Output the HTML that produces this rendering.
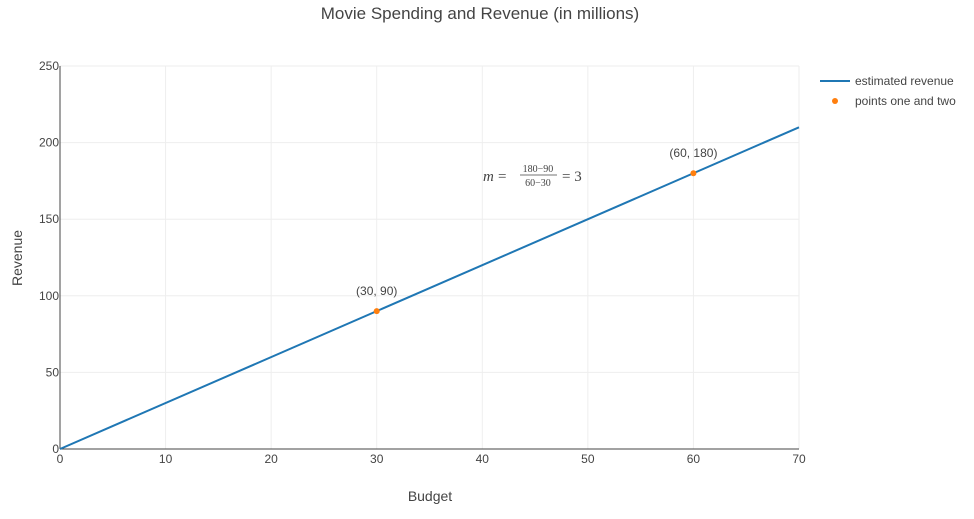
<!DOCTYPE html>
<html><head><meta charset="utf-8"><style>
body{margin:0;background:#fff;width:974px;height:514px;overflow:hidden;font-family:"Liberation Sans",sans-serif}
text{font-family:"Liberation Sans",sans-serif;fill:#444}
</style></head><body>
<svg id="c" width="974" height="514">
<text x="480" y="19" font-size="17" text-anchor="middle">Movie Spending and Revenue (in millions)</text>
<g id="grid"></g><g id="axes"></g><g id="marks"></g>
<text x="430" y="501" font-size="14" text-anchor="middle">Budget</text>
<text transform="translate(22,258) rotate(-90)" font-size="14" text-anchor="middle">Revenue</text>
<g font-family="Liberation Serif" >
<text x="483" y="181" font-size="15" font-style="italic" style="font-family:'Liberation Serif',serif">m</text>
<text x="498" y="181" font-size="15" style="font-family:'Liberation Serif',serif">=</text>
<text x="538" y="172" font-size="10" text-anchor="middle" style="font-family:'Liberation Serif',serif">180−90</text>
<line x1="520" y1="175" x2="557" y2="175" stroke="#444" stroke-width="0.8"/>
<text x="538" y="186" font-size="10" text-anchor="middle" style="font-family:'Liberation Serif',serif">60−30</text>
<text x="562" y="181" font-size="15" style="font-family:'Liberation Serif',serif">= 3</text>
</g>
<g>
<line x1="820" y1="81" x2="850" y2="81" stroke="#1f77b4" stroke-width="2"/>
<text x="855" y="85" font-size="12">estimated revenue</text>
<circle cx="835" cy="101" r="3" fill="#ff7f0e"/>
<text x="855" y="105" font-size="12">points one and two</text>
</g>
</svg>
<script>
const xTicks=[0,10,20,30,40,50,60,70];
const yTicks=[0,50,100,150,200,250];
const lineX=[0,70];
const lineY=[0,210];
const ptX=[30,60];
const ptY=[90,180];
const ptLabels=["(30, 90)","(60, 180)"];
const X=v=>60+v*(739/70), Y=v=>449-v*(383/250);
const NS="http://www.w3.org/2000/svg";
function mk(t,a,p,txt){const e=document.createElementNS(NS,t);for(const k in a)e.setAttribute(k,a[k]);if(txt!=null)e.textContent=txt;p.appendChild(e);return e;}
const g=document.getElementById('grid'),ax=document.getElementById('axes'),m=document.getElementById('marks');
xTicks.forEach(v=>{
 const l=mk('line',{x1:X(v),x2:X(v),y1:Y(250),y2:Y(0),stroke:'#eee'},g);
 
 
 const t=mk('text',{x:X(v),y:463,'font-size':12,'text-anchor':'middle'},ax,v);
 
 
});
yTicks.forEach(v=>{
 const l=mk('line',{x1:X(0),x2:X(70),y1:Y(v),y2:Y(v),stroke:'#eee'},g);
 
 
 const t=mk('text',{x:59,y:Y(v)+4,'font-size':12,'text-anchor':'end'},ax,v);
 
 
});
const xa=mk('line',{x1:X(0),x2:X(70),y1:Y(0),y2:Y(0),stroke:'#444'},ax);


const ya=mk('line',{x1:X(0),x2:X(0),y1:Y(0),y2:Y(250),stroke:'#444'},ax);


const ln=mk('polyline',{points:lineX.map((v,i)=>X(v)+','+Y(lineY[i])).join(' '),fill:'none',stroke:'#1f77b4','stroke-width':2},m);


ptX.forEach((v,i)=>{
 const c=mk('circle',{cx:X(v),cy:Y(ptY[i]),r:3,fill:'#ff7f0e'},m);
 
 
 const t=mk('text',{x:X(v),y:Y(ptY[i])-16,'font-size':12,'text-anchor':'middle'},m,ptLabels[i]);
 
 
});
</script>
</body></html>
